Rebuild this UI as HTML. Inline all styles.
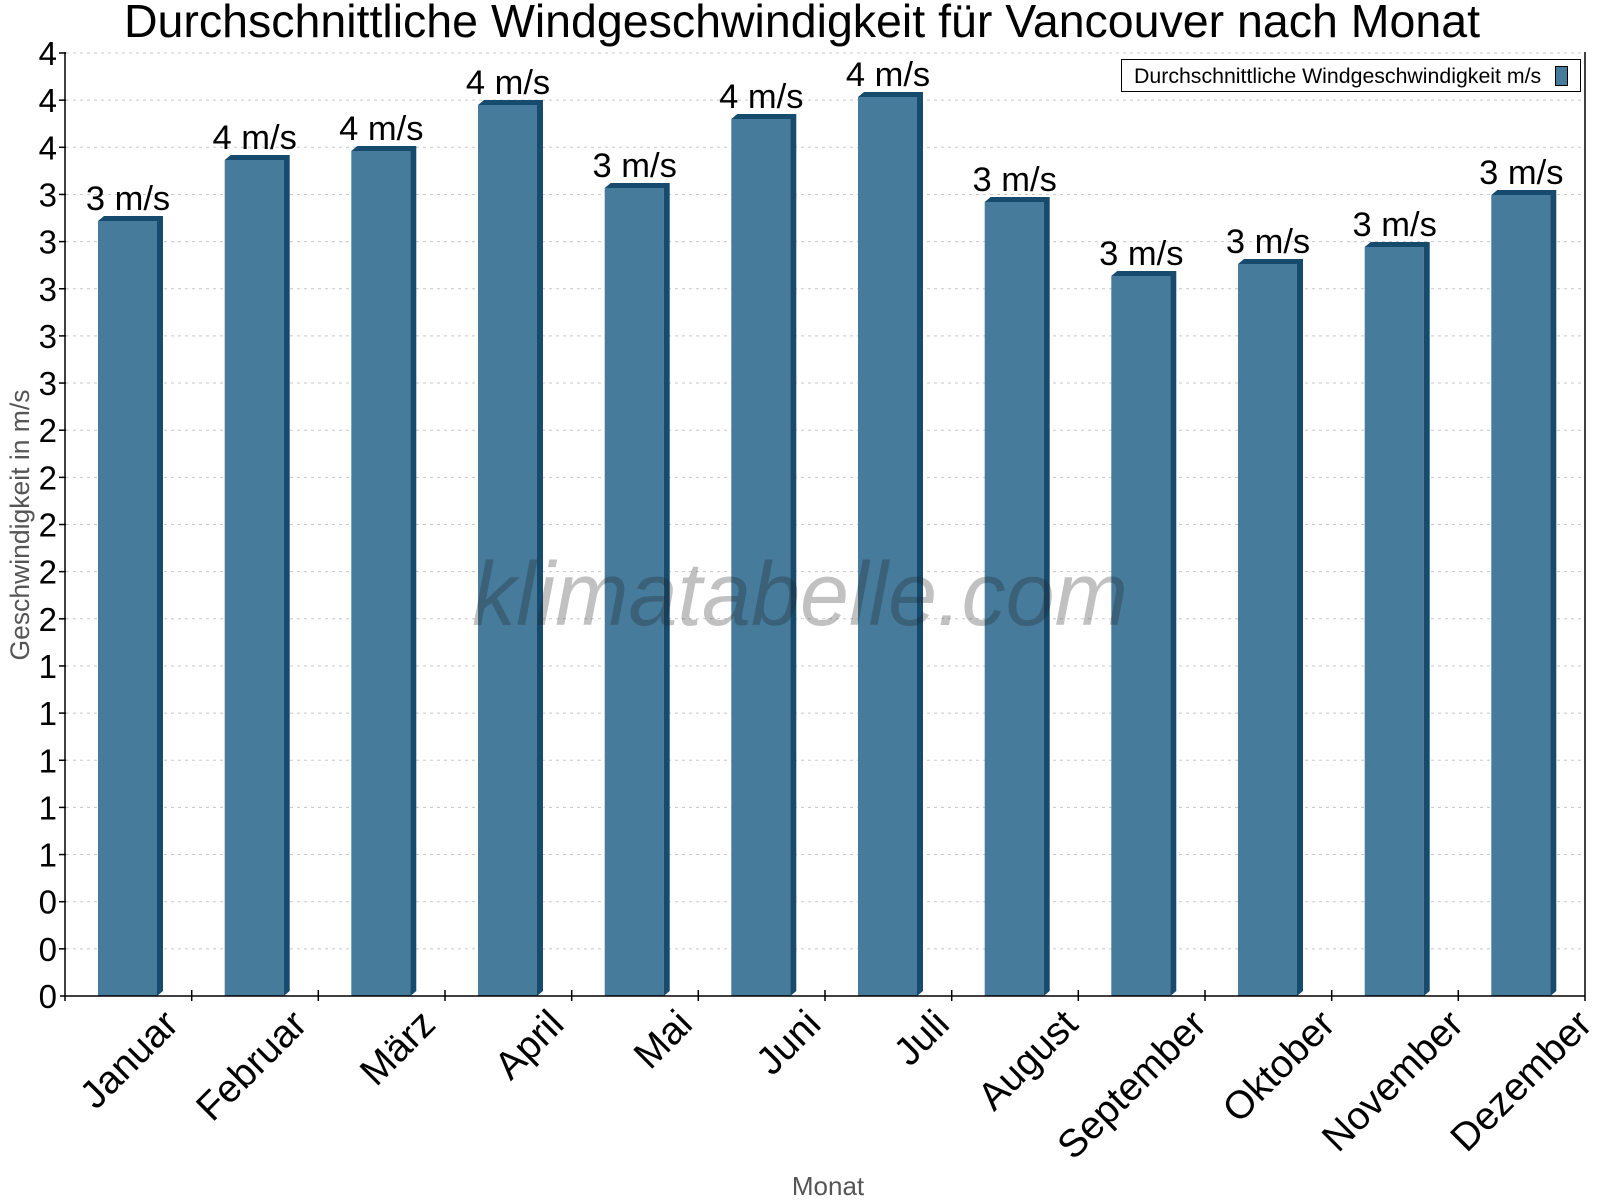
<!DOCTYPE html>
<html><head><meta charset="utf-8"><style>html,body{margin:0;padding:0;background:#fff}svg{display:block}</style></head>
<body>
<svg width="1600" height="1200" viewBox="0 0 1600 1200" xmlns="http://www.w3.org/2000/svg" font-family="Liberation Sans, Arial, sans-serif">
<rect width="1600" height="1200" fill="#fff"/>
<g stroke="#c8c8c8" stroke-width="1" stroke-dasharray="3,4">
<line x1="66" x2="1585" y1="948.85" y2="948.85"/><line x1="66" x2="1585" y1="901.7" y2="901.7"/><line x1="66" x2="1585" y1="854.55" y2="854.55"/><line x1="66" x2="1585" y1="807.4" y2="807.4"/><line x1="66" x2="1585" y1="760.25" y2="760.25"/><line x1="66" x2="1585" y1="713.1" y2="713.1"/><line x1="66" x2="1585" y1="665.95" y2="665.95"/><line x1="66" x2="1585" y1="618.8" y2="618.8"/><line x1="66" x2="1585" y1="571.65" y2="571.65"/><line x1="66" x2="1585" y1="524.5" y2="524.5"/><line x1="66" x2="1585" y1="477.35" y2="477.35"/><line x1="66" x2="1585" y1="430.2" y2="430.2"/><line x1="66" x2="1585" y1="383.05" y2="383.05"/><line x1="66" x2="1585" y1="335.9" y2="335.9"/><line x1="66" x2="1585" y1="288.75" y2="288.75"/><line x1="66" x2="1585" y1="241.6" y2="241.6"/><line x1="66" x2="1585" y1="194.45" y2="194.45"/><line x1="66" x2="1585" y1="147.3" y2="147.3"/><line x1="66" x2="1585" y1="100.15" y2="100.15"/><line x1="66" x2="1585" y1="53" y2="53"/>
</g>
<g fill="#467b9c">
<rect x="98" y="221" width="59" height="775"/>
<rect x="224.7" y="160" width="59" height="836"/>
<rect x="351.3" y="151" width="59" height="845"/>
<rect x="478" y="105" width="59" height="891"/>
<rect x="604.7" y="188" width="59" height="808"/>
<rect x="731.3" y="119" width="59" height="877"/>
<rect x="858" y="97" width="59" height="899"/>
<rect x="984.7" y="202" width="59" height="794"/>
<rect x="1111.3" y="276" width="59" height="720"/>
<rect x="1238" y="264" width="59" height="732"/>
<rect x="1364.7" y="247" width="59" height="749"/>
<rect x="1491.3" y="195" width="59" height="801"/>
</g>
<g fill="#174b6e">
<polygon points="98,221 104,216 163,216 163,991 157,996 157,221"/>
<polygon points="224.7,160 230.7,155 289.7,155 289.7,991 283.7,996 283.7,160"/>
<polygon points="351.3,151 357.3,146 416.3,146 416.3,991 410.3,996 410.3,151"/>
<polygon points="478,105 484,100 543,100 543,991 537,996 537,105"/>
<polygon points="604.7,188 610.7,183 669.7,183 669.7,991 663.7,996 663.7,188"/>
<polygon points="731.3,119 737.3,114 796.3,114 796.3,991 790.3,996 790.3,119"/>
<polygon points="858,97 864,92 923,92 923,991 917,996 917,97"/>
<polygon points="984.7,202 990.7,197 1049.7,197 1049.7,991 1043.7,996 1043.7,202"/>
<polygon points="1111.3,276 1117.3,271 1176.3,271 1176.3,991 1170.3,996 1170.3,276"/>
<polygon points="1238,264 1244,259 1303,259 1303,991 1297,996 1297,264"/>
<polygon points="1364.7,247 1370.7,242 1429.7,242 1429.7,991 1423.7,996 1423.7,247"/>
<polygon points="1491.3,195 1497.3,190 1556.3,190 1556.3,991 1550.3,996 1550.3,195"/>
</g>
<g font-size="34.5" text-anchor="middle" fill="#000">
<text x="128" y="210">3 m/s</text>
<text x="254.7" y="149">4 m/s</text>
<text x="381.3" y="140">4 m/s</text>
<text x="508" y="94">4 m/s</text>
<text x="634.7" y="177">3 m/s</text>
<text x="761.3" y="108">4 m/s</text>
<text x="888" y="86">4 m/s</text>
<text x="1014.7" y="191">3 m/s</text>
<text x="1141.3" y="265">3 m/s</text>
<text x="1268" y="253">3 m/s</text>
<text x="1394.7" y="236">3 m/s</text>
<text x="1521.3" y="184">3 m/s</text>
</g>
<text x="800" y="625" font-size="90" font-style="italic" fill="#222" fill-opacity="0.28" text-anchor="middle" textLength="656" lengthAdjust="spacingAndGlyphs">klimatabelle.com</text>
<g stroke="#000" stroke-width="1.5">
<line x1="65" y1="52" x2="65" y2="1001"/><line x1="1585" y1="52" x2="1585" y2="1001"/><line x1="60" y1="996" x2="1585" y2="996"/>
<line x1="59" x2="66" y1="948.85" y2="948.85"/><line x1="59" x2="66" y1="901.7" y2="901.7"/><line x1="59" x2="66" y1="854.55" y2="854.55"/><line x1="59" x2="66" y1="807.4" y2="807.4"/><line x1="59" x2="66" y1="760.25" y2="760.25"/><line x1="59" x2="66" y1="713.1" y2="713.1"/><line x1="59" x2="66" y1="665.95" y2="665.95"/><line x1="59" x2="66" y1="618.8" y2="618.8"/><line x1="59" x2="66" y1="571.65" y2="571.65"/><line x1="59" x2="66" y1="524.5" y2="524.5"/><line x1="59" x2="66" y1="477.35" y2="477.35"/><line x1="59" x2="66" y1="430.2" y2="430.2"/><line x1="59" x2="66" y1="383.05" y2="383.05"/><line x1="59" x2="66" y1="335.9" y2="335.9"/><line x1="59" x2="66" y1="288.75" y2="288.75"/><line x1="59" x2="66" y1="241.6" y2="241.6"/><line x1="59" x2="66" y1="194.45" y2="194.45"/><line x1="59" x2="66" y1="147.3" y2="147.3"/><line x1="59" x2="66" y1="100.15" y2="100.15"/><line x1="59" x2="66" y1="53" y2="53"/>
<line x1="191.7" x2="191.7" y1="990" y2="1001"/><line x1="318.3" x2="318.3" y1="990" y2="1001"/><line x1="445" x2="445" y1="990" y2="1001"/><line x1="571.7" x2="571.7" y1="990" y2="1001"/><line x1="698.3" x2="698.3" y1="990" y2="1001"/><line x1="825" x2="825" y1="990" y2="1001"/><line x1="951.7" x2="951.7" y1="990" y2="1001"/><line x1="1078.3" x2="1078.3" y1="990" y2="1001"/><line x1="1205" x2="1205" y1="990" y2="1001"/><line x1="1331.7" x2="1331.7" y1="990" y2="1001"/><line x1="1458.3" x2="1458.3" y1="990" y2="1001"/>
</g>
<g font-size="33" text-anchor="end" fill="#000">
<text x="57" y="1008">0</text><text x="57" y="960.85">0</text><text x="57" y="913.7">0</text><text x="57" y="866.55">1</text><text x="57" y="819.4">1</text><text x="57" y="772.25">1</text><text x="57" y="725.1">1</text><text x="57" y="677.95">1</text><text x="57" y="630.8">2</text><text x="57" y="583.65">2</text><text x="57" y="536.5">2</text><text x="57" y="489.35">2</text><text x="57" y="442.2">2</text><text x="57" y="395.05">3</text><text x="57" y="347.9">3</text><text x="57" y="300.75">3</text><text x="57" y="253.6">3</text><text x="57" y="206.45">3</text><text x="57" y="159.3">4</text><text x="57" y="112.15">4</text><text x="57" y="65">4</text>
</g>
<g font-size="39" text-anchor="end" fill="#000">
<text transform="translate(162,1008) rotate(-45)" y="26">Januar</text>
<text transform="translate(290.5,1008) rotate(-45)" y="26">Februar</text>
<text transform="translate(419,1008) rotate(-45)" y="26">März</text>
<text transform="translate(547.5,1008) rotate(-45)" y="26">April</text>
<text transform="translate(676,1008) rotate(-45)" y="26">Mai</text>
<text transform="translate(804.5,1008) rotate(-45)" y="26">Juni</text>
<text transform="translate(933,1008) rotate(-45)" y="26">Juli</text>
<text transform="translate(1061.5,1008) rotate(-45)" y="26">August</text>
<text transform="translate(1190,1008) rotate(-45)" y="26">September</text>
<text transform="translate(1318.5,1008) rotate(-45)" y="26">Oktober</text>
<text transform="translate(1447,1008) rotate(-45)" y="26">November</text>
<text transform="translate(1575.5,1008) rotate(-45)" y="26">Dezember</text>
</g>
<text x="802" y="37" font-size="46.5" text-anchor="middle" fill="#000">Durchschnittliche Windgeschwindigkeit für Vancouver nach Monat</text>
<text transform="translate(29,525) rotate(-90)" font-size="26.5" text-anchor="middle" fill="#555">Geschwindigkeit in m/s</text>
<text x="828" y="1195" font-size="26" text-anchor="middle" fill="#555">Monat</text>
<rect x="1121.5" y="59.5" width="459" height="32" fill="#fff" stroke="#000" stroke-width="1"/>
<text x="1134" y="83" font-size="21.3" fill="#000">Durchschnittliche Windgeschwindigkeit m/s</text>
<rect x="1555.5" y="66.5" width="12" height="19" fill="#467b9c" stroke="#000" stroke-width="1"/>
</svg>
</body></html>
